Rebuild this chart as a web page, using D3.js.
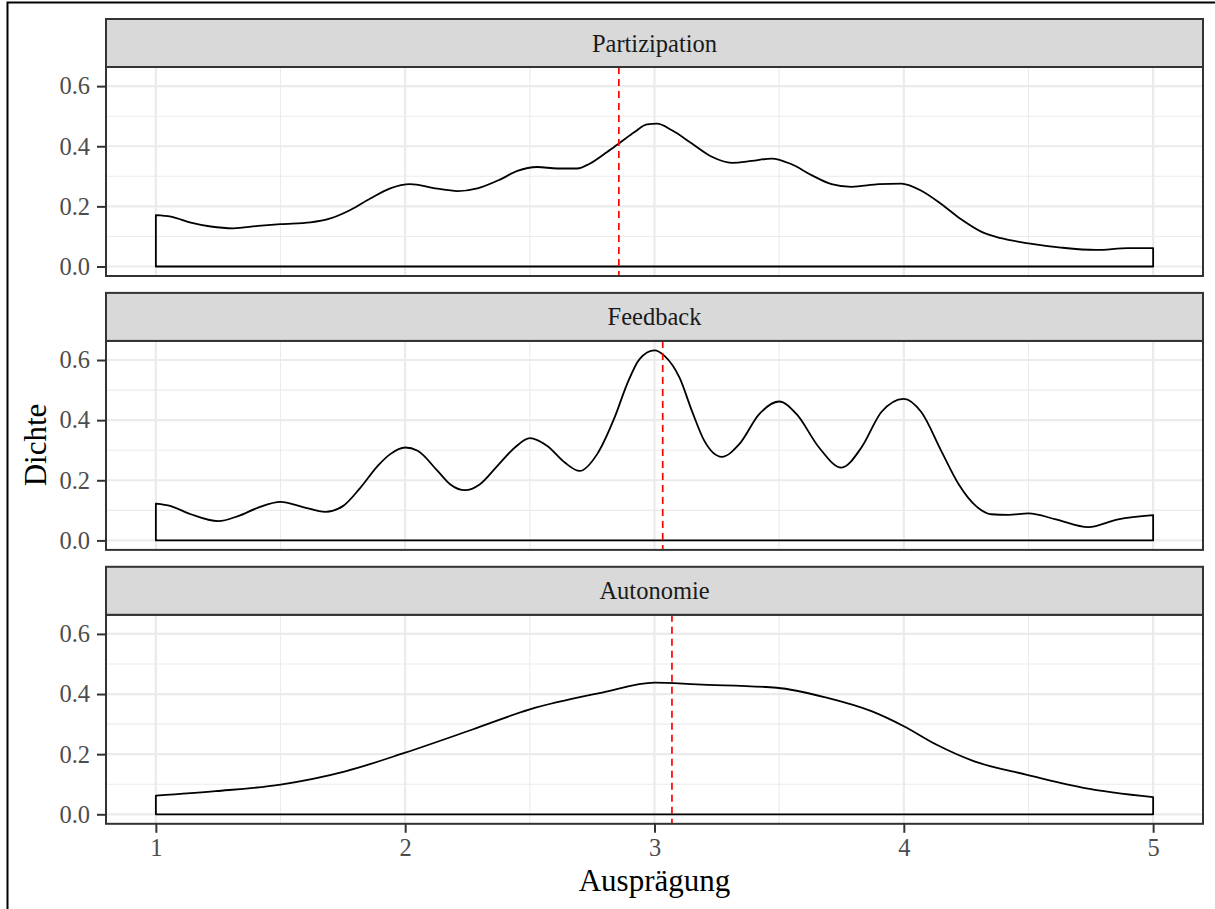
<!DOCTYPE html>
<html>
<head>
<meta charset="utf-8">
<script src="https://cdn.jsdelivr.net/npm/d3@7"></script>
<style>
  html, body { margin: 0; padding: 0; background: #fff; }
  svg { display: block; }
</style>
</head>
<body>
<script>
// Facet names, top to bottom
const facets = ["Partizipation", "Feedback", "Autonomie"];

// Kernel density estimates per facet: [Ausprägung, Dichte]
const partizipation = [
  [1.00,0.171],[1.06,0.166],[1.14,0.146],[1.22,0.133],[1.31,0.127],[1.41,0.135],
  [1.50,0.141],[1.62,0.147],[1.70,0.160],[1.78,0.188],[1.86,0.226],[1.94,0.260],
  [2.02,0.274],[2.12,0.260],[2.21,0.251],[2.29,0.260],[2.38,0.289],[2.45,0.318],
  [2.53,0.331],[2.61,0.326],[2.69,0.326],[2.74,0.342],[2.81,0.381],[2.86,0.411],
  [2.92,0.447],[2.97,0.473],[3.01,0.475],[3.07,0.453],[3.15,0.409],[3.23,0.365],
  [3.31,0.345],[3.39,0.351],[3.47,0.359],[3.55,0.340],[3.63,0.304],[3.71,0.274],
  [3.79,0.265],[3.90,0.274],[3.99,0.276],[4.07,0.252],[4.15,0.208],[4.23,0.157],
  [4.31,0.116],[4.39,0.094],[4.50,0.077],[4.63,0.063],[4.77,0.055],[4.90,0.061],
  [5.00,0.061]
];
const feedback = [
  [1.00,0.122],[1.06,0.114],[1.14,0.087],[1.25,0.064],[1.33,0.081],[1.41,0.109],
  [1.50,0.128],[1.59,0.111],[1.68,0.095],[1.75,0.114],[1.82,0.175],[1.89,0.248],
  [1.94,0.287],[2.00,0.309],[2.05,0.298],[2.13,0.231],[2.18,0.187],[2.24,0.167],
  [2.30,0.187],[2.37,0.248],[2.44,0.309],[2.50,0.340],[2.57,0.314],[2.64,0.259],
  [2.70,0.231],[2.77,0.287],[2.84,0.409],[2.89,0.520],[2.94,0.603],[3.00,0.632],
  [3.04,0.614],[3.10,0.542],[3.15,0.431],[3.20,0.331],[3.27,0.278],[3.34,0.320],
  [3.42,0.420],[3.50,0.462],[3.57,0.420],[3.66,0.309],[3.75,0.242],[3.83,0.309],
  [3.91,0.427],[4.00,0.471],[4.07,0.427],[4.15,0.298],[4.22,0.187],[4.29,0.114],
  [4.35,0.087],[4.42,0.085],[4.50,0.090],[4.61,0.070],[4.74,0.044],[4.86,0.070],
  [5.00,0.084]
];
const autonomie = [
  [1.00,0.062],[1.24,0.077],[1.50,0.099],[1.76,0.143],[2.00,0.205],[2.27,0.282],
  [2.50,0.349],[2.79,0.405],[3.00,0.438],[3.17,0.432],[3.49,0.421],[3.69,0.388],
  [3.87,0.343],[4.00,0.293],[4.13,0.232],[4.28,0.177],[4.49,0.132],[4.72,0.088],
  [5.00,0.057]
];

// Mean of each facet (red dashed reference line)
const means = [2.857, 3.033, 3.07];

// Axis breaks and labels
const xTicks = [1, 2, 3, 4, 5];
const xMinor = [1.5, 2.5, 3.5, 4.5];
const yTicks = [0, 0.2, 0.4, 0.6];
const yTickLabels = ["0.0", "0.2", "0.4", "0.6"];
const yMinor = [0.1, 0.3, 0.5];

const series = [partizipation, feedback, autonomie];

const W = 1215, H = 909;
const svg = d3.select("body").append("svg").attr("width", W).attr("height", H);

const FONT = "'Liberation Serif', 'Times New Roman', serif";

// Outer frame
svg.append("rect")
  .attr("x", 7.5).attr("y", 2.5).attr("width", W + 20).attr("height", H + 20)
  .attr("fill", "none").attr("stroke", "#000").attr("stroke-width", 2);

// Layout
const left = 106, right = 1203;
const stripTop0 = 19, pitch = 273.9, stripH = 48, panelH = 209;

// Shared scales (ggplot-style 5% expansion)
const xScale = d3.scaleLinear().domain([0.8, 5.2]).range([left, right]);
const yMax = d3.max(series.flat(), d => d[1]);
const yPad = yMax * 0.05;
const yDomain = [-yPad, yMax + yPad];

const area = (ys) => d3.area()
  .x(d => xScale(d[0]))
  .y0(ys(0))
  .y1(d => ys(d[1]))
  .curve(d3.curveMonotoneX);

facets.forEach((name, i) => {
  const stripTop = stripTop0 + i * pitch;
  const pTop = stripTop + stripH;
  const pBot = pTop + panelH;
  const yScale = d3.scaleLinear().domain(yDomain).range([pBot, pTop]);

  const g = svg.append("g");

  // Panel background
  g.append("rect").attr("x", left).attr("y", pTop)
    .attr("width", right - left).attr("height", panelH).attr("fill", "#fff");

  // Minor grid
  g.selectAll(".gxm").data(xMinor).join("line")
    .attr("x1", d => xScale(d)).attr("x2", d => xScale(d))
    .attr("y1", pTop).attr("y2", pBot)
    .attr("stroke", "#EBEBEB").attr("stroke-width", 1.1);
  g.selectAll(".gym").data(yMinor).join("line")
    .attr("x1", left).attr("x2", right)
    .attr("y1", d => yScale(d)).attr("y2", d => yScale(d))
    .attr("stroke", "#EBEBEB").attr("stroke-width", 1.1);
  // Major grid
  g.selectAll(".gx").data(xTicks).join("line")
    .attr("x1", d => xScale(d)).attr("x2", d => xScale(d))
    .attr("y1", pTop).attr("y2", pBot)
    .attr("stroke", "#EBEBEB").attr("stroke-width", 2.2);
  g.selectAll(".gy").data(yTicks).join("line")
    .attr("x1", left).attr("x2", right)
    .attr("y1", d => yScale(d)).attr("y2", d => yScale(d))
    .attr("stroke", "#EBEBEB").attr("stroke-width", 2.2);

  // Density outline
  g.append("path")
    .datum(series[i])
    .attr("d", area(yScale))
    .attr("fill", "none")
    .attr("stroke", "#000")
    .attr("stroke-width", 1.8)
    .attr("stroke-linejoin", "round");

  // Mean line
  g.append("line")
    .attr("x1", xScale(means[i])).attr("x2", xScale(means[i]))
    .attr("y1", pTop).attr("y2", pBot)
    .attr("stroke", "#FF0000").attr("stroke-width", 1.7)
    .attr("stroke-dasharray", "7,5");

  // Panel border
  g.append("rect").attr("x", left).attr("y", pTop)
    .attr("width", right - left).attr("height", panelH)
    .attr("fill", "none").attr("stroke", "#333333").attr("stroke-width", 2);

  // Strip
  g.append("rect").attr("x", left).attr("y", stripTop)
    .attr("width", right - left).attr("height", stripH)
    .attr("fill", "#D9D9D9").attr("stroke", "#333333").attr("stroke-width", 2);
  g.append("text")
    .attr("x", (left + right) / 2).attr("y", stripTop + stripH / 2)
    .attr("dy", "0.35em")
    .attr("text-anchor", "middle")
    .attr("font-family", FONT).attr("font-size", 24.5)
    .attr("fill", "#1A1A1A")
    .text(name);

  // Y axis
  const yAxis = d3.axisLeft(yScale).tickValues(yTicks)
    .tickFormat((d, k) => yTickLabels[k]).tickSize(9).tickPadding(7);
  const ya = g.append("g").attr("transform", `translate(${left},0)`).call(yAxis);
  ya.select(".domain").remove();
  ya.selectAll("line").attr("stroke", "#333333").attr("stroke-width", 2);
  ya.selectAll("text").attr("font-family", FONT).attr("font-size", 24.5)
    .attr("fill", "#4D4D4D");

  // X axis on bottom facet only
  if (i === facets.length - 1) {
    const xAxis = d3.axisBottom(xScale).tickValues(xTicks)
      .tickFormat(d3.format("d")).tickSize(9).tickPadding(6);
    const xa = g.append("g").attr("transform", `translate(0,${pBot})`).call(xAxis);
    xa.select(".domain").remove();
    xa.selectAll("line").attr("stroke", "#333333").attr("stroke-width", 2);
    xa.selectAll("text").attr("font-family", FONT).attr("font-size", 24.5)
      .attr("fill", "#4D4D4D");
  }
});

// Axis titles
svg.append("text")
  .attr("x", (left + right) / 2).attr("y", 891)
  .attr("text-anchor", "middle")
  .attr("font-family", FONT).attr("font-size", 31).attr("fill", "#000")
  .text("Ausprägung");

svg.append("text")
  .attr("transform", `translate(46,445) rotate(-90)`)
  .attr("text-anchor", "middle")
  .attr("font-family", FONT).attr("font-size", 31).attr("fill", "#000")
  .text("Dichte");
</script>
</body>
</html>
